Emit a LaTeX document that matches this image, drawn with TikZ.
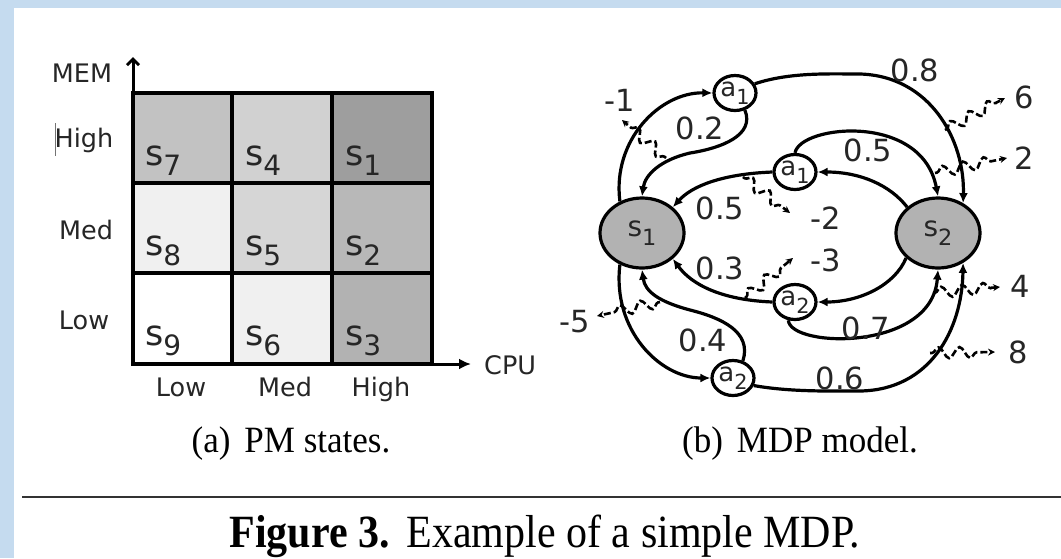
\documentclass[tikz,border=0pt]{standalone}
\usepackage{fontspec}
\setmainfont{Liberation Serif}
\newfontfamily\dv{DejaVu Sans}
\usepackage{graphicx}
\usetikzlibrary{shapes.geometric,arrows.meta,decorations.pathmorphing}

\definecolor{bgblue}{RGB}{197,219,239}
\definecolor{txt}{RGB}{38,38,38}

\newcommand{\sx}[2]{#1\raisebox{-0.3em}{\scalebox{0.8}{#2}}}

\begin{document}
\begin{tikzpicture}[x=1pt,y=-1pt,
  cell/.style={draw=black, line width=3.5pt},
  axis/.style={line width=3pt},
  ax/.style={font=\dv\fontsize{25.5}{28}\selectfont, text=txt, inner sep=0pt, anchor=base},
  clab/.style={font=\dv\fontsize{35}{40}\selectfont, text=txt, inner sep=0pt, anchor=base west},
  st/.style={ellipse, draw, line width=3.2pt, fill=black!30, minimum width=84pt, minimum height=70pt, inner sep=0pt, font=\dv\fontsize{28}{30}\selectfont, text=txt},
  act/.style={ellipse, draw, line width=3.2pt, fill=white, minimum width=42pt, minimum height=35pt, inner sep=0pt, font=\dv\fontsize{26}{28}\selectfont, text=txt},
  tr/.style={line width=3.2pt, -{Latex[length=10pt,width=9pt]}},
  rw/.style={dash pattern=on 7pt off 3pt, line width=2.6pt, -{Stealth[length=7pt,width=7pt]}, decorate, decoration={snake, amplitude=5.5pt, segment length=21pt, post length=8pt, pre length=2pt}},
  num/.style={font=\dv\fontsize{30.5}{33}\selectfont, text=txt, inner sep=0pt},
  captxt/.style={font=\fontsize{35}{40}\selectfont, inner sep=0pt, anchor=base},
]
\useasboundingbox (0,0) rectangle (1061,558);
\fill[white] (0,0) rectangle (1061,558);
\fill[bgblue] (0,0) rectangle (1061,8);
\fill[bgblue] (0,0) rectangle (14,558);

% ---------- (a) PM states ----------
\fill[black!24] (133,93) rectangle (232,183);
\fill[black!18] (232,93) rectangle (332,183);
\fill[black!38] (332,93) rectangle (432,183);
\fill[black!6]  (133,183) rectangle (232,273);
\fill[black!16] (232,183) rectangle (332,273);
\fill[black!28] (332,183) rectangle (432,273);
\fill[black!6]  (232,273) rectangle (332,364);
\fill[black!30] (332,273) rectangle (432,364);

\draw[cell] (133,93) rectangle (432,364);
\draw[cell] (232,93) -- (232,364);
\draw[cell] (332,93) -- (332,364);
\draw[cell] (133,183) -- (432,183);
\draw[cell] (133,273) -- (432,273);

\draw[axis, -{Straight Barb[length=6pt,width=12pt]}] (133,364) -- (133,57);
\draw[axis, -{Latex[length=12pt,width=11pt]}] (133,364) -- (471,364);

\node[clab] (c7) at (145,165) {\sx{s}{7}};
\node[clab] (c4) at (245,165) {\sx{s}{4}};
\node[clab] (c1) at (345,165) {\sx{s}{1}};
\node[clab] (c8) at (145,255) {\sx{s}{8}};
\node[clab] (c5) at (245,255) {\sx{s}{5}};
\node[clab] (c2) at (345,255) {\sx{s}{2}};
\node[clab] (c9) at (145,345) {\sx{s}{9}};
\node[clab] (c6) at (245,345) {\sx{s}{6}};
\node[clab] (c3) at (345,345) {\sx{s}{3}};

\node[ax] (mem) at (82,82) {MEM};
\draw[black!55, line width=1pt] (55,123) -- (55,156);
\node[ax] (yh) at (84,147) {High};
\node[ax] (ym) at (86,239) {Med};
\node[ax] (yl) at (84,329) {Low};
\node[ax, anchor=base west] (cpu) at (484,374) {CPU};
\node[ax] (xl) at (181,396) {Low};
\node[ax] (xm) at (285,396) {Med};
\node[ax] (xh) at (381,396) {High};

% ---------- (b) MDP model ----------
\node[st] (s1) at (642,233) {\sx{s}{1}};
\node[st] (s2) at (938,233) {\sx{s}{2}};
\node[act] (a1t) at (735,93) {\sx{a}{1}};
\node[act] (a1m) at (795,172) {\sx{a}{1}};
\node[act] (a2m) at (795,302) {\sx{a}{2}};
\node[act] (a2b) at (733,378) {\sx{a}{2}};

\draw[tr] (s1.125) .. controls (612,140) and (660,92) .. (a1t.west);
\draw[tr] (a1t.-60) .. controls (755,135) and (722,148) .. (690,153) .. controls (660,160) and (645,175) .. (s1.north);
\draw[tr] (a1t.25) .. controls (790,72) and (830,74) .. (860,74) .. controls (930,76) and (965,140) .. (s2.50);
\draw[tr] (s2.140) .. controls (890,185) and (860,172) .. (a1m.east);
\draw[tr] (a1m.west) .. controls (722,174) and (692,186) .. (s1.40);
\draw[tr] (a1m.90) .. controls (800,125) and (922,112) .. (s2.north);
\draw[tr] (s2.218) .. controls (895,285) and (860,302) .. (a2m.east);
\draw[tr] (a2m.west) .. controls (722,300) and (692,285) .. (s1.-40);
\draw[tr] (a2m.-110) .. controls (790,348) and (932,352) .. (s2.south);
\draw[tr] (s1.-125) .. controls (612,330) and (660,378) .. (a2b.west);
\draw[tr] (a2b.60) .. controls (752,332) and (722,318) .. (690,310) .. controls (660,302) and (645,292) .. (s1.south);
\draw[tr] (a2b.-20) .. controls (790,392) and (830,391) .. (860,391) .. controls (930,390) and (962,330) .. (s2.-50);

\coordinate (r1a) at (666,158); \coordinate (r1b) at (622,120);
\coordinate (r2a) at (743,177); \coordinate (r2b) at (790,213);
\coordinate (r3a) at (745,298); \coordinate (r3b) at (793,258);
\coordinate (r5a) at (660,302); \coordinate (r5b) at (597,316);
\coordinate (r6a) at (945,130); \coordinate (r6b) at (1005,98);
\coordinate (r7a) at (935,173); \coordinate (r7b) at (1007,158);
\coordinate (r4a) at (933,293); \coordinate (r4b) at (1000,287);
\coordinate (r8a) at (930,353); \coordinate (r8b) at (995,352);
\draw[rw] (r1a) -- (r1b);
\draw[rw] (r2a) -- (r2b);
\draw[rw] (r3a) -- (r3b);
\draw[rw] (r5a) -- (r5b);
\draw[rw] (r6a) -- (r6b);
\draw[rw] (r7a) -- (r7b);
\draw[rw] (r4a) -- (r4b);
\draw[rw] (r8a) -- (r8b);

\node[num] (n08) at (915,70) {0.8};
\node[num] (n6) at (1024,97) {6};
\node[num] (n05a) at (868,150) {0.5};
\node[num] (n2) at (1024,158) {2};
\node[num] (nm1) at (620,100) {-1};
\node[num] (n02) at (700,128) {0.2};
\node[num] (n05b) at (720,208) {0.5};
\node[num] (nm2) at (826,218) {-2};
\node[num] (n03) at (720,268) {0.3};
\node[num] (nm3) at (826,260) {-3};
\node[num] (n4) at (1020,286) {4};
\node[num] (nm5) at (575,322) {-5};
\node[num] (n04) at (703,340) {0.4};
\node[num] (n07) at (866,328) {0.7};
\node[num] (n8) at (1018,352) {8};
\node[num] (n06) at (840,378) {0.6};

% ---------- captions ----------
\node[captxt] (capa) at (291,452) {\scalebox{1}[1.06]{(a)\hspace{0.4em}PM states.}};
\node[captxt] (capb) at (800,452) {\scalebox{1}[1.06]{(b)\hspace{0.4em}MDP model.}};
\draw[black!80, line width=1.6pt] (22,497) -- (1061,497);
\node[font=\fontsize{42}{46}\selectfont, inner sep=0pt, anchor=base] (fig) at (545,547) {\scalebox{1}[1.1]{\textbf{Figure 3.}\hspace{0.4em}Example of a simple MDP.}};
\end{tikzpicture}
\end{document}
